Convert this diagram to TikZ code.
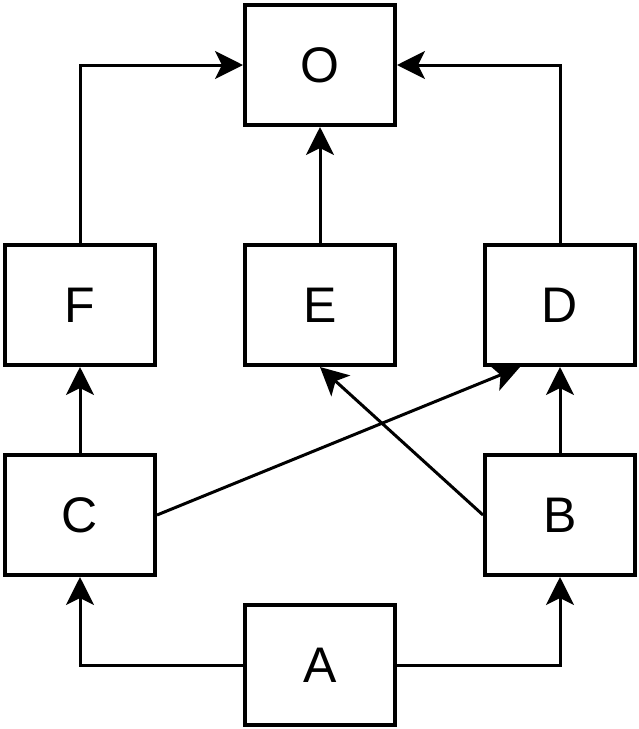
\documentclass[tikz,border=0pt]{standalone}
\usepackage{fontspec}
\setmainfont{Liberation Sans}
\usetikzlibrary{arrows.meta}
\begin{document}
\begin{tikzpicture}[x=1pt,y=-1pt,
  box/.style={draw, line width=4pt, minimum width=150pt, minimum height=120pt,
    inner sep=0pt, font=\fontsize{50pt}{60pt}\selectfont},
  link/.style={line width=3pt,
    -{Stealth[length=28pt,width=28pt,inset=7pt]}}]
  \useasboundingbox (0,0) rectangle (639,729);
  % boxes
  \node[box] (O) at (320,65) {O};
  \node[box] (F) at (80,305) {F};
  \node[box] (E) at (320,305) {E};
  \node[box] (D) at (560,305) {D};
  \node[box] (C) at (80,515) {C};
  \node[box] (B) at (560,515) {B};
  \node[box] (A) at (320,665) {A};
  % connectors
  \coordinate (Din) at ([xshift=-40pt]D.south);
  \draw[link] (F.north) |- (O.west);
  \draw[link] (D.north) |- (O.east);
  \draw[link] (E.north) -- (O.south);
  \draw[link] (C.north) -- (F.south);
  \draw[link] (B.north) -- (D.south);
  \draw[link] (A.west) -| (C.south);
  \draw[link] (A.east) -| (B.south);
  \draw[link] (C.east) -- (Din);
  \draw[link] (B.west) -- (E.south);
\end{tikzpicture}
\end{document}
